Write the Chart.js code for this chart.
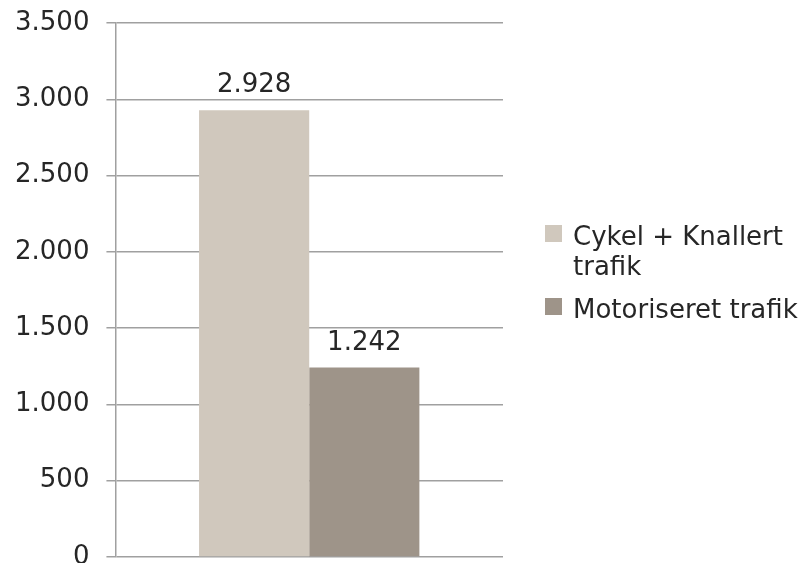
<!DOCTYPE html>
<html>
<head>
<meta charset="utf-8">
<script src="https://cdn.jsdelivr.net/npm/chart.js@4.4.1/dist/chart.umd.min.js"></script>
<style>
  html, body { margin: 0; padding: 0; background: #fff; overflow: hidden; }
  #wrap { position: relative; width: 803px; height: 580px; }
</style>
</head>
<body>
<div id="wrap"><canvas id="grafik"></canvas></div>
<script>
// Data
const kategorier = [""];
const serieNavne = ["Cykel + Knallert trafik", "Motoriseret trafik"];
const legendLinjer = [["Cykel + Knallert", "trafik"], ["Motoriseret trafik"]];
const cykelKnallert = [2928];
const motoriseret = [1242];
const yTicks = [0, 500, 1000, 1500, 2000, 2500, 3000, 3500];
const farver = ["#d0c8bd", "#9e9489"];

const tekstFarve = "#262626";
const gitterFarve = "#a0a0a0";
const skrift = "26px 'DejaVu Sans', Verdana, sans-serif";

// Dansk talformat: 3.500
function tal(v) {
    return String(v).replace(/\B(?=(\d{3})+(?!\d))/g, ".");
}

Chart.defaults.font.family = "'DejaVu Sans', Verdana, sans-serif";
Chart.defaults.font.size = 26;
Chart.defaults.color = tekstFarve;

// Værdier over søjlerne
const vaerdiLabels = {
    id: "vaerdiLabels",
    afterDatasetsDraw(chart) {
        const ctx = chart.ctx;
        ctx.save();
        ctx.font = skrift;
        ctx.fillStyle = tekstFarve;
        ctx.textAlign = "center";
        ctx.textBaseline = "alphabetic";
        chart.data.datasets.forEach((ds, i) => {
            chart.getDatasetMeta(i).data.forEach((bar, j) => {
                ctx.fillText(tal(ds.data[j]), bar.x, bar.y - 18);
            });
        });
        ctx.restore();
    }
};

// Forklaring til højre, med ombrudt tekst
const forklaring = {
    id: "forklaring",
    afterDraw(chart) {
        const { ctx, chartArea } = chart;
        const x0 = chartArea.right + 42;
        let y = chartArea.top + 202;
        ctx.save();
        ctx.font = skrift;
        ctx.textAlign = "left";
        ctx.textBaseline = "alphabetic";
        legendLinjer.forEach((linjer, i) => {
            ctx.fillStyle = chart.data.datasets[i].backgroundColor;
            ctx.fillRect(x0, y, 17, 17);
            ctx.fillStyle = tekstFarve;
            linjer.forEach((l, k) => ctx.fillText(l, x0 + 28, y + 20 + k * 30));
            y += linjer.length * 30 + 13;
        });
        ctx.restore();
    }
};

const ctx = document.getElementById("grafik").getContext("2d");
new Chart(ctx, {
    type: "bar",
    data: {
        labels: kategorier,
        datasets: [
            { label: serieNavne[0], data: cykelKnallert, backgroundColor: farver[0] },
            { label: serieNavne[1], data: motoriseret, backgroundColor: farver[1] }
        ]
    },
    options: {
        responsive: true,
        maintainAspectRatio: false,
        animation: false,
        layout: { padding: { left: -2, top: 0, right: 300, bottom: 0 } },
        datasets: {
            bar: { categoryPercentage: 0.5685, barPercentage: 1.0 }
        },
        plugins: {
            tooltip: { enabled: false },
            legend: { display: false }
        },
        scales: {
            x: { display: false },
            y: {
                position: "left",
                min: yTicks[0],
                max: yTicks[yTicks.length - 1],
                ticks: {
                    stepSize: yTicks[1] - yTicks[0],
                    padding: 17,
                    color: tekstFarve,
                    // lav linjehøjde, så aksens top- og bundluft passer
                    font: { size: 26, lineHeight: 0.4615 },
                    callback: (v) => tal(v)
                },
                grid: { color: gitterFarve, lineWidth: 1.5, tickLength: 9 },
                border: { color: gitterFarve, width: 1.5 }
            }
        }
    },
    plugins: [vaerdiLabels, forklaring]
});
</script>
</body>
</html>
